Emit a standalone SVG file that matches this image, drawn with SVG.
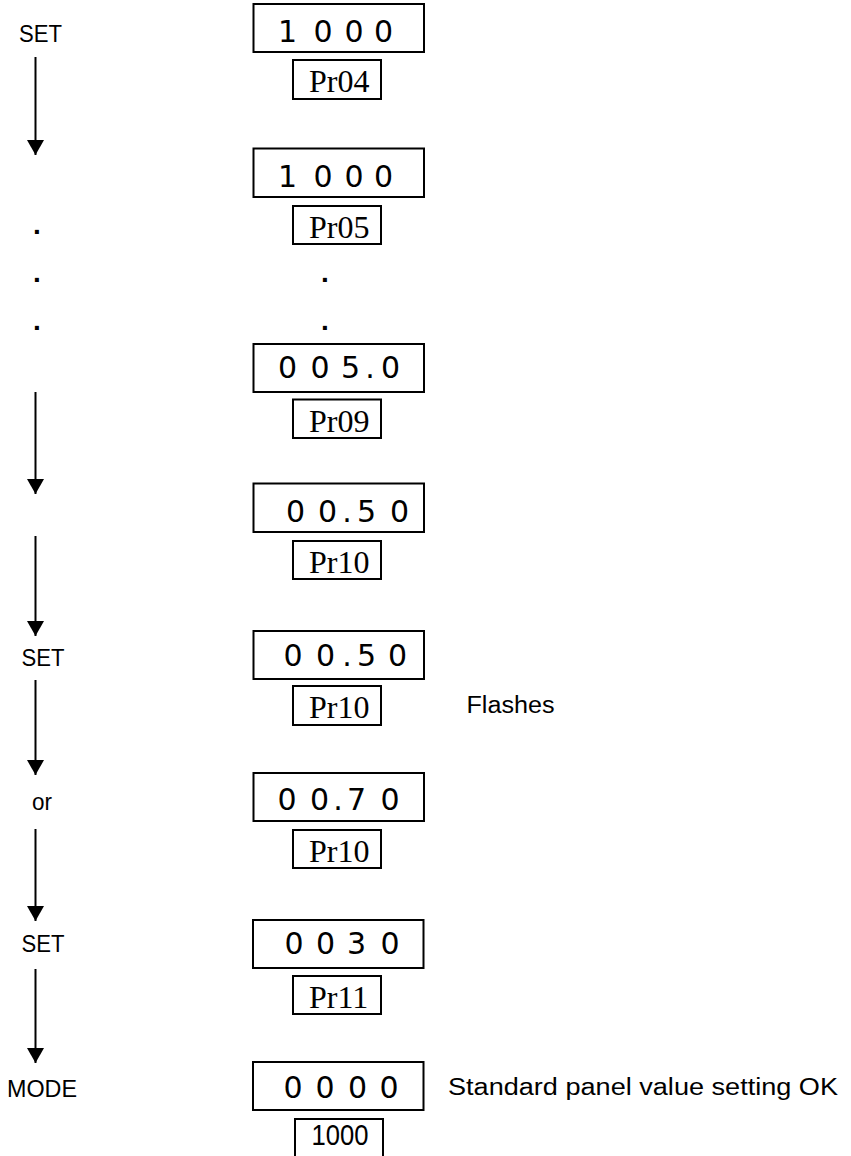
<svg xmlns="http://www.w3.org/2000/svg" width="851" height="1156" viewBox="0 0 851 1156">
<style>
.box{fill:#fff;stroke:#000;stroke-width:2}
.dg{font-family:"DejaVu Sans",sans-serif;font-size:30px;text-anchor:middle;fill:#000}
.pr{font-family:"Liberation Serif",serif;font-size:32px;fill:#000}
.lb{font-family:"Liberation Sans",Arial,sans-serif;font-size:23px;fill:#000}
.big{font-family:"Liberation Sans",Arial,sans-serif;font-size:30px;fill:#000}
.dot{font-family:"Liberation Sans",Arial,sans-serif;font-size:28px;font-weight:bold;text-anchor:middle;fill:#000}
.ln{stroke:#000;stroke-width:2;fill:none}
</style>
<defs>
<marker id="ah" markerUnits="userSpaceOnUse" markerWidth="18" markerHeight="17" refX="15" refY="8.5" orient="auto">
<path d="M0,0 L15,8.5 L0,17 Z" fill="#000"/>
</marker>
</defs>
<rect width="851" height="1156" fill="#fff"/>
<g id="connectors">
<line class="ln" x1="35.5" y1="57" x2="35.5" y2="155" marker-end="url(#ah)"/>
<line class="ln" x1="35.5" y1="392" x2="35.5" y2="494" marker-end="url(#ah)"/>
<line class="ln" x1="35.5" y1="536" x2="35.5" y2="636" marker-end="url(#ah)"/>
<line class="ln" x1="35.5" y1="680" x2="35.5" y2="775" marker-end="url(#ah)"/>
<line class="ln" x1="35.5" y1="829" x2="35.5" y2="921" marker-end="url(#ah)"/>
<line class="ln" x1="35.5" y1="969" x2="35.5" y2="1063" marker-end="url(#ah)"/>
</g>
<g id="labels">
<text class="lb" x="19" y="42" textLength="43" lengthAdjust="spacingAndGlyphs">SET</text>
<text class="lb" x="21.5" y="666" textLength="43" lengthAdjust="spacingAndGlyphs">SET</text>
<text class="lb" x="32" y="810" textLength="20" lengthAdjust="spacingAndGlyphs">or</text>
<text class="lb" x="21.5" y="952" textLength="43" lengthAdjust="spacingAndGlyphs">SET</text>
<text class="lb" x="7" y="1097" textLength="70" lengthAdjust="spacingAndGlyphs">MODE</text>
<text class="dot" x="37" y="234">.</text>
<text class="dot" x="37" y="282">.</text>
<text class="dot" x="37" y="330">.</text>
<text class="dot" x="325" y="282">.</text>
<text class="dot" x="325" y="330">.</text>
</g>
<g id="n1">
<rect class="box" x="253.5" y="4" width="170.5" height="48"/>
<text class="dg" x="287.5 323 354 383.5" y="42">1000</text>
<rect class="box" x="293" y="60" width="88" height="39"/>
<text class="pr" x="309" y="92">Pr04</text>
</g>
<g id="n2">
<rect class="box" x="253.5" y="148.5" width="170.5" height="48.5"/>
<text class="dg" x="287.5 323 354 383.5" y="186.5">1000</text>
<rect class="box" x="293" y="206" width="88" height="38"/>
<text class="pr" x="309" y="238">Pr05</text>
</g>
<g id="n3">
<rect class="box" x="253.5" y="344" width="170.5" height="48"/>
<text class="dg" x="287.5 320 350.5 370 390.5" y="377.5">005.0</text>
<rect class="box" x="293" y="399.5" width="88" height="38.5"/>
<text class="pr" x="309" y="431.5">Pr09</text>
</g>
<g id="n4">
<rect class="box" x="253.5" y="483.5" width="170.5" height="48.5"/>
<text class="dg" x="295.5 327.5 347 366.5 399.5" y="521.5">00.50</text>
<rect class="box" x="293" y="541" width="88" height="38"/>
<text class="pr" x="309" y="573">Pr10</text>
</g>
<g id="n5">
<rect class="box" x="253.5" y="631" width="170.5" height="48"/>
<text class="dg" x="293 325.5 347 366.5 397.5" y="665.5">00.50</text>
<rect class="box" x="293" y="686" width="88" height="39"/>
<text class="pr" x="309" y="718">Pr10</text>
<text class="lb" x="466.5" y="713" textLength="88" lengthAdjust="spacingAndGlyphs">Flashes</text>
</g>
<g id="n6">
<rect class="box" x="253.5" y="773" width="170.5" height="48"/>
<text class="dg" x="287 319.5 338 356.5 390" y="810">00.70</text>
<rect class="box" x="293" y="830" width="88" height="38"/>
<text class="pr" x="309" y="862">Pr10</text>
</g>
<g id="n7">
<rect class="box" x="253" y="920" width="170.5" height="48"/>
<text class="dg" x="294 325.5 356.5 390" y="953.5">0030</text>
<rect class="box" x="293" y="976" width="88" height="38"/>
<text class="pr" x="309" y="1008">Pr11</text>
</g>
<g id="n8">
<rect class="box" x="253" y="1062" width="170.5" height="48"/>
<text class="dg" x="293 325 357.5 389" y="1097.5">0000</text>
<rect class="box" x="295" y="1119" width="88" height="45"/>
<text class="big" x="311.5" y="1145" textLength="57" lengthAdjust="spacingAndGlyphs">1000</text>
<text class="lb" x="448" y="1095" textLength="390" lengthAdjust="spacingAndGlyphs">Standard panel value setting OK</text>
</g>
</svg>
